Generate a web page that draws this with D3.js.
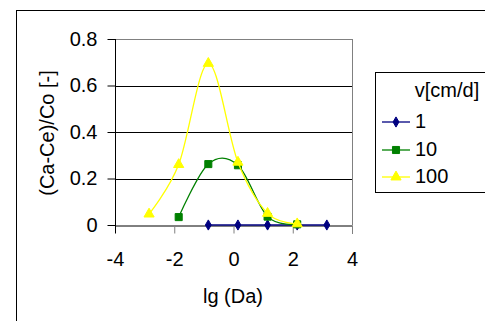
<!DOCTYPE html>
<html><head><meta charset="utf-8">
<script src="https://cdn.jsdelivr.net/npm/d3@7"></script>
<style>body{margin:0;background:#fff}svg{display:block;font-family:Arial,"Liberation Sans",sans-serif}</style>
</head><body>
<script>
const xTicks = [-4, -2, 0, 2, 4];
const yTicks = [0, 0.2, 0.4, 0.6, 0.8];
const yTickLabels = ["0", "0.2", "0.4", "0.6", "0.8"];
const seriesNames = ["1", "10", "100"];
const x1 = [-0.85, 0.15, 1.15, 2.15, 3.15];
const y1 = [0, 0, 0, 0, 0];
const x10 = [-1.85, -0.85, 0.15, 1.15, 2.15];
const y10 = [0.034, 0.262, 0.257, 0.036, 0.003];
const x100 = [-2.85, -1.85, -0.85, 0.15, 1.15, 2.15];
const y100 = [0.047, 0.26, 0.695, 0.27, 0.05, 0.005];
const legendTitle = "v[cm/d]";
const xTitle = "lg (Da)";
const yTitle = "(Ca-Ce)/Co [-]";

const W = 485, H = 321;
const svg = d3.select("body").append("svg").attr("width", W).attr("height", H);
svg.append("rect").attr("x", 16.5).attr("y", 10.5).attr("width", 600).attr("height", 400)
  .attr("fill", "#fff").attr("stroke", "#000");

const x = d3.scaleLinear().domain([-4, 4]).range([115, 352]);
const y = d3.scaleLinear().domain([0, 0.8]).range([225, 39]);

// gridlines
svg.append("g").selectAll("line").data([0.2, 0.4, 0.6]).join("line")
  .attr("x1", x(-4)).attr("x2", x(4)).attr("y1", d => Math.round(y(d)) + 0.5).attr("y2", d => Math.round(y(d)) + 0.5)
  .attr("stroke", "#000");
// plot border (gray) top and right
svg.append("line").attr("x1", x(-4)).attr("x2", x(4) + 0.5).attr("y1", Math.round(y(0.8)) + 0.5).attr("y2", Math.round(y(0.8)) + 0.5).attr("stroke", "#808080");
svg.append("line").attr("x1", Math.round(x(4)) + 0.5).attr("x2", Math.round(x(4)) + 0.5).attr("y1", y(0.8)).attr("y2", y(0)).attr("stroke", "#808080");

// x axis
const xa = svg.append("g").attr("transform", `translate(0,${Math.round(y(0)) + 0.5})`)
  .call(d3.axisBottom(x).tickValues(xTicks).tickSize(8).tickPadding(18).tickFormat(d3.format("d")));
xa.select(".domain").attr("stroke", "#000");
xa.selectAll(".tick line").attr("stroke", "#808080");
xa.selectAll(".tick text").attr("font-size", 20).attr("fill", "#000").attr("font-family", "Arial, Liberation Sans, sans-serif");
xa.selectAll("text").text(d => d < 0 ? "-" + Math.abs(d) : d);

// y axis
const ya = svg.append("g").attr("transform", `translate(${Math.round(x(-4)) + 0.5},0)`)
  .call(d3.axisLeft(y).tickValues(yTicks).tickSize(8).tickPadding(10).tickFormat((d, i) => yTickLabels[i]));
ya.select(".domain").attr("stroke", "#000").attr("d", `M0,${y(0.8)}V${y(0) + 8}`);
ya.selectAll(".tick line").attr("stroke", "#000");
ya.selectAll(".tick text").attr("font-size", 20).attr("fill", "#000").attr("font-family", "Arial, Liberation Sans, sans-serif");

// titles
svg.append("text").attr("x", 233).attr("y", 303).attr("text-anchor", "middle").attr("font-size", 20).text(xTitle);
svg.append("text").attr("transform", "translate(54,133) rotate(-90)").attr("text-anchor", "middle").attr("font-size", 20).text(yTitle);

const series = [
  {name: seriesNames[0], xs: x1, ys: y1, color: "#000080", shape: d3.symbolDiamond, size: 30, curve: d3.curveLinear},
  {name: seriesNames[1], xs: x10, ys: y10, color: "#008000", shape: d3.symbolSquare, size: 50, curve: d3.curveCatmullRom.alpha(0)},
  {name: seriesNames[2], xs: x100, ys: y100, color: "#FFFF00", shape: d3.symbolTriangle, size: 45, curve: d3.curveCatmullRom.alpha(0)}
];
series.forEach(s => {
  const pts = s.xs.map((v, i) => [v, s.ys[i]]);
  svg.append("path").datum(pts)
    .attr("d", d3.line().x(d => x(d[0])).y(d => y(d[1])).curve(s.curve))
    .attr("fill", "none").attr("stroke", s.color).attr("stroke-width", 1.3);
  svg.append("g").selectAll("path").data(pts).join("path")
    .attr("transform", d => `translate(${x(d[0])},${y(d[1])})`)
    .attr("d", d3.symbol().type(s.shape).size(s.size))
    .attr("fill", s.color).attr("stroke", s.color);
});

// legend
const lg = svg.append("g");
lg.append("rect").attr("x", 375.5).attr("y", 72.5).attr("width", 200).attr("height", 120).attr("fill", "#fff").attr("stroke", "#000");
lg.append("text").attr("x", 447).attr("y", 97).attr("text-anchor", "middle").attr("font-size", 20).text(legendTitle);
const ly = [122, 150, 177];
series.forEach((s, i) => {
  lg.append("line").attr("x1", 382).attr("x2", 410).attr("y1", ly[i]).attr("y2", ly[i]).attr("stroke", s.color).attr("stroke-width", 1.3);
  lg.append("path").attr("transform", `translate(396,${ly[i]})`).attr("d", d3.symbol().type(s.shape).size(s.size)).attr("fill", s.color).attr("stroke", s.color);
  lg.append("text").attr("x", 415).attr("y", ly[i] + 6).attr("font-size", 20).text(s.name);
});
</script>
</body></html>
